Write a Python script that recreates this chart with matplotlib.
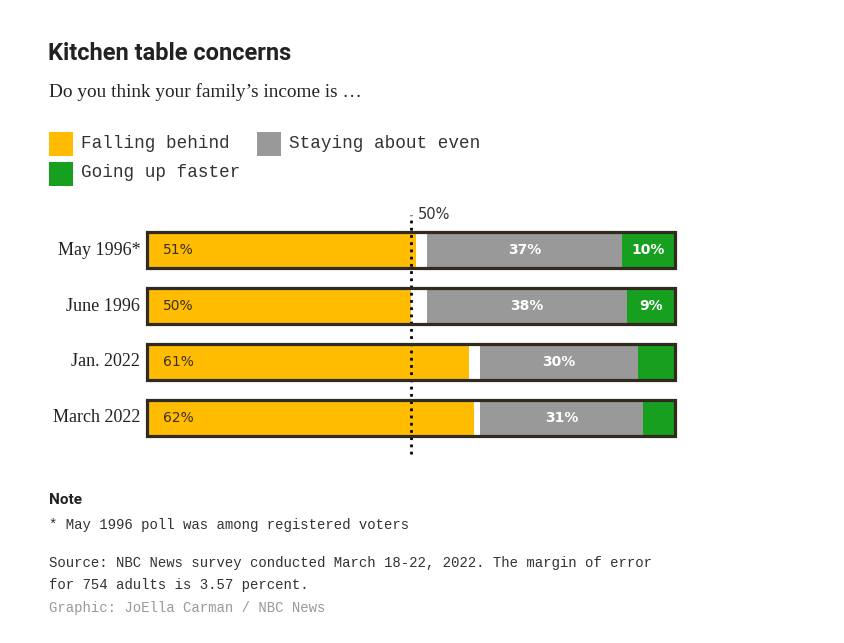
import matplotlib
matplotlib.use("Agg")
import matplotlib.pyplot as plt
from matplotlib.patches import Rectangle

# ---- data ----
categories = ["May 1996*", "June 1996", "Jan. 2022", "March 2022"]
falling = [51, 50, 61, 62]
unsure = [2, 3, 2, 1]
even = [37, 38, 30, 31]
faster = [10, 9, 7, 6]
show_faster_label = [True, True, False, False]

series_names = ["Falling behind", "Staying about even", "Going up faster"]
YELLOW = "#FFBC00"
GRAY = "#999999"
GREEN = "#17A01F"
BORDER = "#302a1f"

W, H = 845, 643
fig = plt.figure(figsize=(W / 100, H / 100), dpi=100)
fig.patch.set_facecolor("white")


def fx(px):
    return px / W


def fy(py):
    return 1 - py / H


# ---- title / subtitle ----
fig.text(fx(48), fy(53), "Kitchen table concerns", fontsize=17, fontweight="bold",
         family="Roboto", color="#222222", va="center", ha="left")
fig.text(fx(49), fy(92), "Do you think your family\u2019s income is \u2026", fontsize=13.9,
         family="Liberation Serif", color="#222222", va="center", ha="left")

# ---- legend ----
leg_items = [(49, 144, YELLOW, series_names[0]),
             (257, 144, GRAY, series_names[1]),
             (49, 174, GREEN, series_names[2])]
for x0, yc, col, name in leg_items:
    fig.patches.append(Rectangle((fx(x0), fy(yc + 12)), 24 / W, 24 / H,
                                 transform=fig.transFigure, facecolor=col,
                                 edgecolor="none"))
    fig.text(fx(x0 + 32), fy(yc - 1), name, fontsize=12.7, family="Liberation Mono",
             color="#333333", va="center", ha="left")

# ---- bars ----
ax_left, ax_right = 147, 675
ax_top, ax_bot = 208, 456
ax = fig.add_axes([fx(ax_left), fy(ax_bot), (ax_right - ax_left) / W, (ax_bot - ax_top) / H])
ax.set_xlim(0, 100)
row_px = 56
top_units = (250 - ax_top) / row_px
ax.set_ylim((ax_bot - 250) / row_px, -top_units)
ax.axis("off")

ypos = list(range(len(categories)))
bh = 0.64
lefts = [0] * len(categories)
for vals, col in [(falling, YELLOW), (unsure, "white"), (even, GRAY), (faster, GREEN)]:
    ax.barh(ypos, vals, left=lefts, height=bh, color=col, edgecolor="none", zorder=2)
    lefts = [l + v for l, v in zip(lefts, vals)]

# outlines
for y, tot in zip(ypos, lefts):
    ax.barh(y, tot, left=0, height=bh, fill=False, edgecolor=BORDER, linewidth=2.3,
            zorder=4, clip_on=False)

# 50% reference line
ax.axvline(50, ymin=0.01, ymax=0.97, color="black", linestyle=(0, (1, 1.6)),
           linewidth=2, zorder=3, clip_on=False)
ax.text(51.3, -top_units + 0.12, "50%", fontsize=10.5, family="DejaVu Sans", color="#333333",
        va="center", ha="left")

# labels
for i in ypos:
    ax.text(3, i, f"{falling[i]}%", fontsize=10, family="DejaVu Sans", color="#3a3020",
            va="center", ha="left", zorder=5)
    gx = falling[i] + unsure[i] + even[i] / 2
    ax.text(gx, i, f"{even[i]}%", fontsize=10, family="DejaVu Sans", fontweight="bold",
            color="white", va="center", ha="center", zorder=5)
    if show_faster_label[i]:
        fxp = falling[i] + unsure[i] + even[i] + faster[i] / 2
        ax.text(fxp, i, f"{faster[i]}%", fontsize=10, family="DejaVu Sans", fontweight="bold",
                color="white", va="center", ha="center", zorder=5)
    ax.text(-1.3, i, categories[i], fontsize=13, family="Liberation Serif", color="#222222",
            va="center", ha="right", clip_on=False)

# ---- notes ----
fig.text(fx(49), fy(500), "Note", fontsize=11, fontweight="bold", family="Roboto",
         color="#222222", va="center", ha="left")
fig.text(fx(49), fy(525), "* May 1996 poll was among registered voters", fontsize=10.1,
         family="Liberation Mono", color="#333333", va="center", ha="left")
fig.text(fx(49), fy(563), "Source: NBC News survey conducted March 18-22, 2022. The margin of error",
         fontsize=10.1, family="Liberation Mono", color="#333333", va="center", ha="left")
fig.text(fx(49), fy(585), "for 754 adults is 3.57 percent.", fontsize=10.1,
         family="Liberation Mono", color="#333333", va="center", ha="left")
fig.text(fx(49), fy(608), "Graphic: JoElla Carman / NBC News", fontsize=10.1,
         family="Liberation Mono", color="#999999", va="center", ha="left")

fig.savefig("out.png", dpi=100, facecolor="white")
